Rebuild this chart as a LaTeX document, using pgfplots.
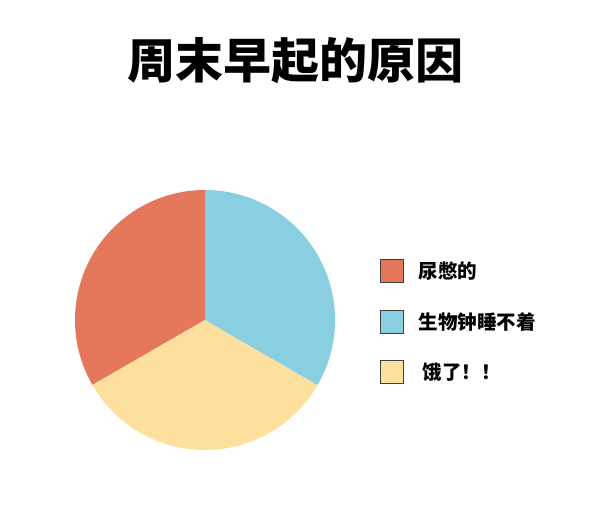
\documentclass[border=0pt]{standalone}
\usepackage{fontspec}
\setmainfont{Noto Sans CJK SC}
\usepackage{pgfplots}
\usepackage{pgfplotstable}
\pgfplotsset{compat=1.18}

\definecolor{pieRed}{HTML}{E5775A}
\definecolor{pieBlue}{HTML}{89CFE1}
\definecolor{pieYellow}{HTML}{FDE09D}

% slices, counterclockwise from the top
\pgfplotstableread{
value
1
1
1
}\piedata

\begin{document}
\begin{tikzpicture}
\pgfplotstablegetelem{0}{value}\of\piedata \let\va\pgfplotsretval
\pgfplotstablegetelem{1}{value}\of\piedata \let\vb\pgfplotsretval
\pgfplotstablegetelem{2}{value}\of\piedata \let\vc\pgfplotsretval
\pgfmathsetmacro\total{\va+\vb+\vc}
\pgfmathsetmacro\angA{90}
\pgfmathsetmacro\angB{\angA+360*\va/\total}
\pgfmathsetmacro\angC{\angB+360*\vb/\total}
\pgfmathsetmacro\angD{\angC+360*\vc/\total}
\begin{axis}[
    width=605pt, height=518pt,
    scale only axis,
    xmin=0, xmax=605,
    ymin=0, ymax=518,
    y dir=reverse,
    hide axis,
    clip=false,
    legend cell align=left,
    legend style={
        at={(axis cs:380,259)}, anchor=north west,
        draw=none, fill=none, inner sep=0pt,
        row sep=27pt, column sep=15pt,
        nodes={inner sep=0pt},
        font=\bfseries\fontsize{19.5}{19.5}\selectfont,
    },
]
\coordinate (bbA) at (axis cs:0,518);
\coordinate (bbB) at (axis cs:605,0);

\fill[pieRed] (axis cs:205,320) -- ([shift={(\angA:130pt)}]axis cs:205,320)
    arc[start angle=\angA, end angle=\angB, radius=130pt] -- cycle;
\fill[pieYellow] (axis cs:205,320) -- ([shift={(\angB:130pt)}]axis cs:205,320)
    arc[start angle=\angB, end angle=\angC, radius=130pt] -- cycle;
\fill[pieBlue] (axis cs:205,320) -- ([shift={(\angC:130pt)}]axis cs:205,320)
    arc[start angle=\angC, end angle=\angD, radius=130pt] -- cycle;

\node[font=\bfseries\fontsize{48}{48}\selectfont] at (axis cs:295,61) {周末早起的原因};

\addlegendimage{legend image code/.code={
    \draw[fill=pieRed, draw=black!75, line width=0.6pt] (0pt,-11.5pt) rectangle (23pt,11.5pt);}}
\addlegendentry{尿憋的}
\addlegendimage{legend image code/.code={
    \draw[fill=pieBlue, draw=black!75, line width=0.6pt] (0pt,-11.5pt) rectangle (23pt,11.5pt);}}
\addlegendentry{生物钟睡不着}
\addlegendimage{legend image code/.code={
    \draw[fill=pieYellow, draw=black!75, line width=0.6pt] (0pt,-11.5pt) rectangle (23pt,11.5pt);}}
\addlegendentry{\hspace{4pt}饿了！！}
\end{axis}
\pgfresetboundingbox
\path (bbA) rectangle (bbB);
\end{tikzpicture}
\end{document}
